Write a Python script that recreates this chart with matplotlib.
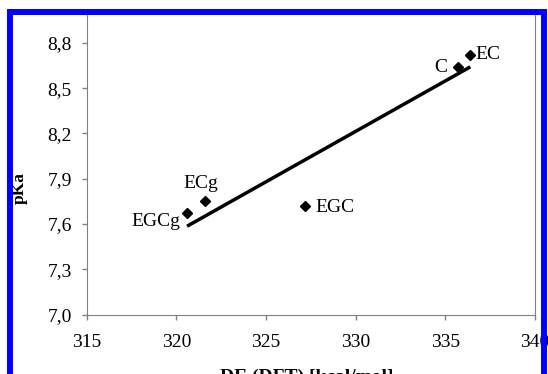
import numpy as np
import matplotlib.pyplot as plt
from matplotlib.patches import Rectangle
from matplotlib.ticker import FuncFormatter

plt.rcParams['font.family'] = ['Liberation Serif', 'DejaVu Serif']

# catechins: DE (DFT) vs pKa
names = ['EGCg', 'ECg', 'EGC', 'C', 'EC']
de_dft = [320.6, 321.6, 327.2, 335.7, 336.4]
pka = [7.67, 7.75, 7.72, 8.64, 8.72]

x_ticks = [315, 320, 325, 330, 335, 340]
y_ticks = [7.0, 7.3, 7.6, 7.9, 8.2, 8.5, 8.8]

# label offsets in pixels (dx, dy to baseline) and alignment
label_pos = {
    'EGCg': (-7, -13, 'right'),
    'ECg': (-4, 13, 'center'),
    'EGC': (10, -6, 'left'),
    'C': (-10, -4.5, 'right'),
    'EC': (5, -4, 'left'),
}

fig = plt.figure(figsize=(5.48, 3.74), dpi=100)
ax = fig.add_axes([86.7 / 548, 1 - 314.5 / 374, (534.8 - 86.7) / 548, (314.5 - 12.8) / 374])

gray = '#808080'
ax.plot(de_dft, pka, 'D', color='black', markersize=5.5, zorder=3)

# linear trend line
k, b = np.polyfit(de_dft, pka, 1)
xs = np.array([min(de_dft), max(de_dft)])
ax.plot(xs, k * xs + b, color='black', linewidth=2.5, solid_capstyle='butt')

for n, x, y in zip(names, de_dft, pka):
    dx, dy, ha = label_pos[n]
    ax.annotate(n, (x, y), xytext=(dx * 0.72, dy * 0.72), textcoords='offset points',
                ha=ha, va='baseline', fontsize=14)

ax.set_xlim(315, 340)
ax.set_ylim(7.0, 9.0)
ax.set_xticks(x_ticks)
ax.set_yticks(y_ticks)
ax.yaxis.set_major_formatter(FuncFormatter(lambda v, p: f'{v:.1f}'.replace('.', ',')))
ax.tick_params(axis='both', direction='out', length=3.6, width=1, color=gray, labelsize=14)
ax.tick_params(axis='y', pad=7)
ax.tick_params(axis='x', pad=10.5)

for s in ['left', 'bottom', 'right']:
    ax.spines[s].set_color(gray)
ax.spines['top'].set_visible(False)

ax.set_xlabel('DE (DFT) [kcal/mol]', fontweight='bold', fontsize=14, va='top')
ax.xaxis.set_label_coords(0.49, -0.178)
ax.set_ylabel('pKa', fontweight='bold', fontsize=12.5)
ax.yaxis.set_label_coords(-0.132, 0.4176)

# blue frame round the chart
frame = Rectangle((10 / 548, -0.1), 534 / 548, (374 - 12) / 374 + 0.1, transform=fig.transFigure,
                  fill=False, edgecolor='#0000ff', linewidth=4.3, zorder=10)
fig.patches.append(frame)

fig.savefig('out.png', dpi=100)
